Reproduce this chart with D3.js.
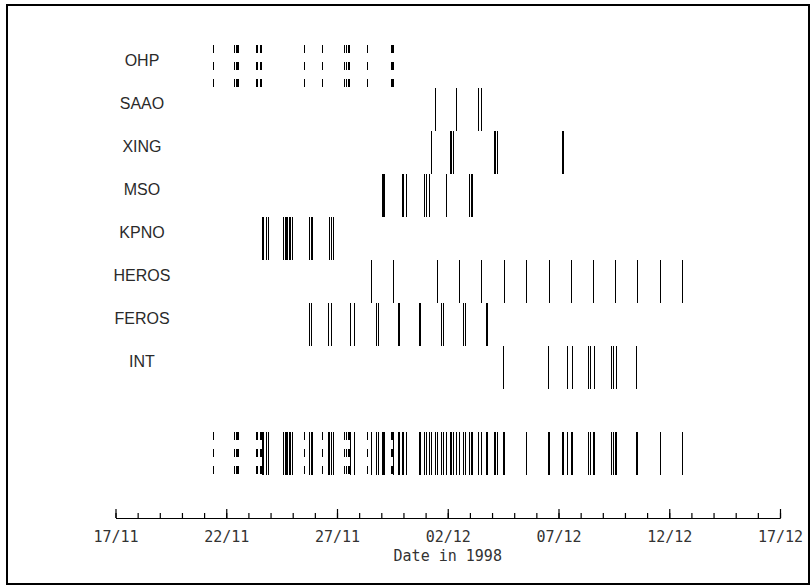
<!DOCTYPE html>
<html>
<head>
<meta charset="utf-8">
<script src="https://cdn.jsdelivr.net/npm/d3@7"></script>
<style>
html,body{margin:0;padding:0;background:#fff;}
svg{display:block;}
</style>
</head>
<body>
<svg id="chart" width="811" height="588"></svg>
<script>
// Observing sites (rows, top to bottom)
const sites = ["OHP","SAAO","XING","MSO","KPNO","HEROS","FEROS","INT"];
// Observation times, as day number counted from 0 Nov 1998 (01/12 = 31)
const OHP   = [21.40, 22.36, 22.42, 22.49, 22.55, 23.33, 23.39, 23.51, 23.57, 25.53, 26.34,
               27.32, 27.40, 27.49, 27.55, 28.35, 29.43, 29.47, 29.52];
const SAAO  = [31.43, 32.39, 33.38, 33.52];
const XING  = [31.23, 32.09, 32.15, 32.23, 34.08, 34.15, 34.24, 37.14, 37.22];
const MSO   = [29.02, 29.08, 29.14, 29.92, 30.00, 30.13, 30.93, 31.02, 31.14, 31.94,
               32.96, 33.04, 33.08];
const KPNO  = [23.61, 23.68, 23.78, 23.89, 24.58, 24.64, 24.70, 24.76, 24.84, 24.90, 24.97,
               25.75, 25.82, 25.88, 26.66, 26.73, 26.84];
const HEROS = [28.54, 29.52, 31.53, 32.52, 33.52, 34.53, 35.55, 36.56, 37.55, 38.56,
               39.55, 40.56, 41.57, 42.57];
const FEROS = [25.74, 25.83, 26.58, 26.73, 27.59, 27.79, 28.76, 28.83, 29.74, 29.80,
               30.68, 30.75, 31.70, 31.79, 32.69, 32.76, 33.71, 33.77];
const INT   = [34.48, 36.51, 37.37, 37.60, 38.35, 38.42, 38.60, 39.37, 39.45, 39.61, 40.51];

const tickDays   = [17, 22, 27, 32, 37, 42, 47];
const tickLabels = ["17/11","22/11","27/11","02/12","07/12","12/12","17/12"];
const minorDays  = d3.range(17, 48, 1);
const xTitle = "Date in 1998";

const seriesBySite = {OHP, SAAO, XING, MSO, KPNO, HEROS, FEROS, INT};
const dashedSites = ["OHP"];

const svg = d3.select("#chart");

// frame
svg.append("rect")
  .attr("x", 7).attr("y", 5).attr("width", 802).attr("height", 579)
  .attr("fill", "none").attr("stroke", "#000").attr("stroke-width", 2);

const x = d3.scaleLinear().domain([17, 47]).range([115.5, 780]);
const y = d3.scaleBand().domain([...sites, "_gap", "_all"]).range([45, 475]).padding(0);
const bw = y.bandwidth();

// row labels
svg.append("g").selectAll("text").data(sites).join("text")
  .attr("x", 142)
  .attr("y", d => y(d) + bw / 2 - 6)
  .attr("dy", "0.35em")
  .attr("text-anchor", "middle")
  .attr("font-family", "'Liberation Sans', Arial, sans-serif")
  .attr("font-size", 16)
  .attr("fill", "#2a2a2a")
  .text(d => d);

// per-site lines
const marks = [];
sites.forEach(s => seriesBySite[s].forEach(v => marks.push({site: s, v})));

const g = svg.append("g").attr("stroke", "#000").attr("stroke-width", 1)
  .attr("shape-rendering", "crispEdges");

g.selectAll("line.site").data(marks).join("line")
  .attr("class", "site")
  .attr("x1", d => Math.round(x(d.v)) + 0.5)
  .attr("x2", d => Math.round(x(d.v)) + 0.5)
  .attr("y1", d => y(d.site))
  .attr("y2", d => y(d.site) + bw)
  .attr("stroke-dasharray", d => dashedSites.includes(d.site) ? "8,9" : null);

// combined row
g.selectAll("line.all").data(marks).join("line")
  .attr("class", "all")
  .attr("x1", d => Math.round(x(d.v)) + 0.5)
  .attr("x2", d => Math.round(x(d.v)) + 0.5)
  .attr("y1", y("_all"))
  .attr("y2", y("_all") + bw)
  .attr("stroke-dasharray", d => dashedSites.includes(d.site) ? "8,9" : null);

// axis
const axisY = 518;
const minorAxis = d3.axisTop(x).tickValues(minorDays).tickSize(5).tickSizeOuter(0).tickFormat("");
const majorAxis = d3.axisTop(x).tickValues(tickDays).tickSize(9).tickSizeOuter(0)
  .tickFormat((d, i) => tickLabels[i]);

const ga1 = svg.append("g").attr("transform", `translate(0,${axisY})`).call(minorAxis);
const ga2 = svg.append("g").attr("transform", `translate(0,${axisY})`).call(majorAxis);
[ga1, ga2].forEach(ga => {
  ga.select(".domain").attr("stroke", "#000").attr("stroke-width", 1.2);
  ga.selectAll(".tick line").attr("stroke", "#000").attr("stroke-width", 1.2);
});
ga2.selectAll(".tick text")
  .attr("y", 24)
  .attr("dy", 0)
  .attr("font-family", "'DejaVu Sans Mono', monospace")
  .attr("font-size", 15)
  .attr("fill", "#333");

svg.append("text")
  .attr("x", (x.range()[0] + x.range()[1]) / 2)
  .attr("y", 561)
  .attr("text-anchor", "middle")
  .attr("font-family", "'DejaVu Sans Mono', monospace")
  .attr("font-size", 15)
  .attr("fill", "#333")
  .text(xTitle);
</script>
</body>
</html>
